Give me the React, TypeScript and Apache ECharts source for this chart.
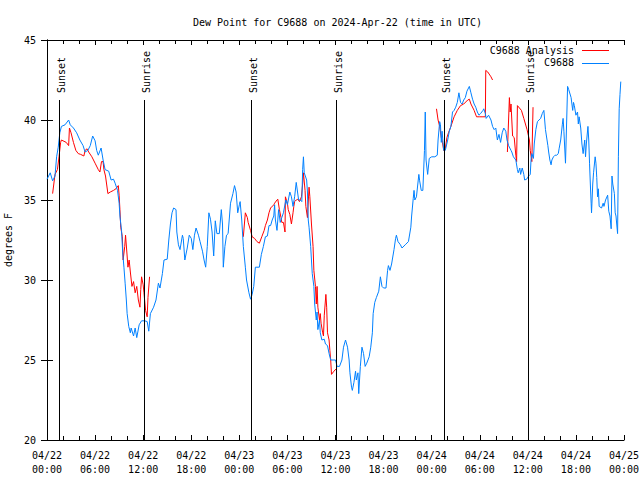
import React, { useEffect, useRef } from 'react';
import * as echarts from 'echarts';

const TITLE = 'Dew Point for C9688 on 2024-Apr-22 (time in UTC)';
const Y_NAME = 'degrees F';
const FONT = 'DejaVu Sans Mono';

// x axis in hours since 04/22 00:00 UTC
const xTickLabels = [
  '04/22\n00:00', '04/22\n06:00', '04/22\n12:00', '04/22\n18:00',
  '04/23\n00:00', '04/23\n06:00', '04/23\n12:00', '04/23\n18:00',
  '04/24\n00:00', '04/24\n06:00', '04/24\n12:00', '04/24\n18:00',
  '04/25\n00:00',
];

const sunHours = [1.5, 12.15, 25.5, 36.0, 49.5, 60.0];
const sunLabels = ['Sunset', 'Sunrise', 'Sunset', 'Sunrise', 'Sunset', 'Sunrise'];
const SUN_TOP = 41.25;

const seriesNames = ['C9688 Analysis', 'C9688'];
const seriesColors = ['#ff0000', '#0080ff'];

// observed dew point (hour, degF)
const observed: [number, number][] = [
  [0.0, 36.3], [0.4, 36.7], [0.7, 36.2], [1.0, 36.5], [1.2, 37.7], [1.4, 38.3], [1.6, 39.2], [1.8, 39.6],
  [2.25, 39.7], [2.7, 40.0], [2.9, 39.7], [3.3, 39.5], [3.7, 39.2], [4.1, 38.75], [4.5, 38.4], [4.75, 38.0],
  [5.1, 38.1], [5.4, 38.4], [5.7, 39.0], [6.0, 38.7], [6.2, 38.1], [6.4, 37.8], [6.75, 38.25], [7.0, 37.5],
  [7.25, 36.9], [7.7, 36.8], [8.0, 36.25], [8.3, 36.3], [8.5, 36.05], [8.8, 35.6], [9.0, 34.8], [9.1, 34.0],
  [9.3, 33.1], [9.45, 31.7], [9.6, 30.8], [9.75, 29.8], [9.9, 28.75], [10.0, 27.9], [10.2, 27.1], [10.4, 26.7],
  [10.5, 27.0], [10.8, 26.5], [11.0, 27.0], [11.2, 26.4], [11.5, 27.2], [11.8, 27.45], [12.2, 27.45], [12.5, 27.4],
  [12.7, 26.8], [12.9, 27.9], [13.3, 28.3], [13.6, 28.75], [13.9, 29.8], [14.1, 29.5], [14.4, 30.4], [14.6, 31.25],
  [15.0, 31.3], [15.2, 32.5], [15.4, 33.5], [15.6, 34.2], [15.8, 34.5], [16.1, 34.4], [16.2, 33.0], [16.4, 32.2],
  [16.6, 31.9], [16.9, 32.8], [17.0, 32.6], [17.2, 31.25], [17.5, 32.0], [17.75, 32.8], [18.0, 32.6], [18.2, 31.9],
  [18.4, 32.8], [18.6, 33.25], [18.9, 32.8], [19.1, 32.4], [19.4, 31.8], [19.6, 31.25], [19.8, 30.8], [20.0, 32.1],
  [20.2, 34.2], [20.4, 33.8], [20.6, 33.0], [20.8, 31.5], [21.0, 33.7], [21.2, 32.9], [21.5, 32.9], [21.75, 34.4],
  [21.9, 33.5], [22.0, 30.8], [22.2, 32.1], [22.4, 32.8], [22.6, 32.9], [22.9, 34.8], [23.2, 35.4], [23.4, 35.9],
  [23.6, 35.5], [23.8, 34.2], [24.0, 34.7], [24.1, 34.9], [24.3, 33.75], [24.5, 32.1], [24.75, 30.8], [24.9, 30.0],
  [25.2, 29.2], [25.4, 28.8], [25.6, 29.1], [25.8, 29.6], [26.0, 30.8], [26.2, 30.8], [26.5, 30.8], [26.75, 31.6],
  [27.0, 32.1], [27.25, 32.7], [27.5, 32.75], [27.7, 33.4], [27.9, 33.4], [28.1, 33.75], [28.3, 34.0], [28.4, 34.7],
  [28.5, 33.75], [28.7, 33.1], [28.9, 34.4], [29.1, 33.6], [29.3, 33.9], [29.5, 34.2], [29.8, 35.0], [30.0, 34.7],
  [30.3, 35.5], [30.5, 35.2], [30.7, 34.6], [30.9, 35.2], [31.1, 36.1], [31.4, 35.0], [31.6, 35.0], [31.8, 34.9],
  [31.9, 36.9], [32.0, 37.7], [32.1, 36.7], [32.4, 36.25], [32.5, 35.5], [32.6, 33.75], [32.7, 33.3], [32.9, 32.1],
  [33.1, 30.4], [33.3, 29.6], [33.4, 28.5], [33.6, 27.5], [33.7, 28.0], [33.8, 26.9], [34.0, 27.5], [34.1, 26.7],
  [34.3, 26.25], [34.6, 26.3], [34.75, 26.0], [35.0, 25.9], [35.2, 25.4], [35.4, 25.0], [35.8, 25.0], [36.0, 25.0],
  [36.2, 24.6], [36.5, 24.6], [36.8, 25.0], [37.0, 25.8], [37.25, 26.25], [37.5, 25.8], [37.7, 25.0], [37.8, 24.2],
  [38.0, 23.3], [38.1, 23.1], [38.3, 23.6], [38.5, 24.3], [38.6, 23.75], [38.8, 24.2], [38.9, 22.9], [39.1, 24.6],
  [39.3, 25.8], [39.5, 25.4], [39.7, 24.6], [39.9, 24.8], [40.2, 25.2], [40.4, 25.8], [40.6, 26.7], [40.7, 27.9],
  [40.9, 28.6], [41.1, 28.9], [41.4, 29.3], [41.6, 30.2], [41.8, 29.6], [42.0, 29.5], [42.3, 29.5], [42.5, 30.6],
  [42.6, 30.9], [42.8, 30.6], [43.0, 31.0], [43.3, 31.9], [43.5, 32.6], [43.6, 32.8], [43.8, 32.4], [44.1, 32.2],
  [44.3, 32.0], [44.7, 32.2], [45.1, 32.4], [45.4, 33.3], [45.5, 34.0], [45.7, 35.1], [45.8, 35.6], [45.9, 35.0],
  [46.1, 35.2], [46.4, 36.6], [46.5, 36.2], [46.7, 35.6], [46.9, 35.6], [47.1, 38.1], [47.2, 40.5], [47.3, 37.5],
  [47.5, 36.6], [47.7, 37.6], [48.0, 37.7], [48.4, 37.7], [48.7, 37.8], [48.8, 38.75], [49.0, 39.9], [49.1, 39.7],
  [49.2, 38.6], [49.3, 39.3], [49.5, 38.1], [49.7, 38.1], [50.0, 38.75], [50.2, 39.3], [50.4, 39.6], [50.6, 40.5],
  [50.8, 40.6], [51.0, 40.8], [51.2, 41.1], [51.4, 41.7], [51.6, 41.1], [51.8, 41.0], [52.0, 41.25], [52.2, 41.4],
  [52.4, 41.8], [52.7, 42.1], [52.9, 41.7], [53.1, 41.3], [53.3, 41.0], [53.5, 40.8], [53.7, 40.5], [53.9, 40.3],
  [54.1, 40.4], [54.4, 40.6], [54.5, 40.7], [54.7, 40.4], [54.8, 40.1], [55.1, 40.3], [55.4, 40.0], [55.6, 39.6],
  [55.8, 39.4], [56.0, 39.5], [56.2, 38.75], [56.4, 39.1], [56.6, 38.6], [56.8, 39.2], [57.0, 39.5], [57.25, 39.3],
  [57.4, 38.75], [57.6, 38.4], [57.9, 38.1], [58.0, 38.0], [58.2, 37.7], [58.5, 37.5], [58.7, 36.9], [58.8, 36.7],
  [59.0, 37.0], [59.1, 36.6], [59.3, 37.0], [59.5, 36.6], [59.6, 36.25], [59.85, 36.3], [60.1, 36.5], [60.3, 36.6],
  [60.4, 37.5], [60.5, 37.9], [60.7, 37.6], [60.8, 38.5], [61.0, 39.4], [61.2, 39.9], [61.4, 40.0], [61.6, 40.1],
  [61.8, 40.4], [62.0, 40.6], [62.2, 39.4], [62.5, 38.4], [62.6, 38.0], [62.75, 37.5], [62.9, 37.2], [63.0, 37.5],
  [63.2, 37.7], [63.4, 37.8], [63.6, 37.8], [63.8, 37.9], [63.9, 38.2], [64.1, 38.75], [64.3, 39.7], [64.4, 40.1],
  [64.5, 39.3], [64.7, 37.3], [64.85, 40.0], [64.96, 42.1], [65.1, 41.9], [65.4, 41.4], [65.6, 40.6], [65.7, 41.1],
  [65.8, 40.9], [66.0, 40.3], [66.2, 40.5], [66.3, 39.75], [66.4, 40.2], [66.6, 39.5], [66.75, 38.5], [66.9, 37.9],
  [67.1, 38.75], [67.2, 37.7], [67.3, 38.5], [67.5, 39.6], [67.6, 38.75], [67.7, 37.3], [67.8, 36.0], [67.9, 34.8],
  [67.95, 34.2], [68.1, 36.0], [68.2, 36.7], [68.4, 37.7], [68.5, 37.3], [68.6, 36.4], [68.7, 35.2], [68.8, 35.7],
  [68.9, 34.6], [69.2, 34.5], [69.4, 34.8], [69.5, 34.6], [69.7, 35.0], [69.96, 35.3], [70.1, 34.3], [70.25, 34.0],
  [70.4, 33.2], [70.5, 36.5], [70.6, 36.0], [70.8, 35.4], [70.9, 34.2], [71.0, 34.0], [71.2, 32.9], [71.3, 37.7],
  [71.4, 40.7], [71.5, 41.6], [71.6, 42.4],
];

// analysis dew point (hour, degF); null = gap
const analysis: [number, number | null][] = [
  [0.7, 35.4], [1.0, 36.6], [1.3, 36.9], [1.5, 37.7], [1.7, 38.6], [1.8, 38.75], [2.0, 38.7], [2.4, 38.6],
  [2.7, 38.4], [2.8, 39.5], [3.0, 39.2], [3.3, 38.6], [3.6, 38.1], [3.9, 37.9], [4.2, 37.85], [4.6, 37.75],
  [4.75, 38.1], [5.0, 38.2], [5.2, 38.0], [5.6, 37.7], [6.0, 37.3], [6.4, 36.9], [6.6, 36.75], [6.8, 37.4],
  [7.0, 37.4], [7.1, 36.9], [7.3, 36.5], [7.6, 35.4], [7.9, 35.5], [8.3, 35.6], [8.6, 35.7], [8.9, 35.9],
  [9.0, 35.3], [9.1, 34.4], [9.2, 33.3], [9.4, 32.7], [9.5, 31.25], [9.7, 32.1], [9.8, 32.8], [10.0, 31.5],
  [10.1, 30.8], [10.25, 31.25], [10.4, 30.5], [10.6, 29.6], [10.8, 29.9], [11.0, 29.2], [11.2, 29.6], [11.4, 28.75],
  [11.6, 28.3], [11.7, 29.4], [11.8, 30.2], [12.0, 29.7], [12.1, 29.2], [12.3, 28.1], [12.5, 27.7], [12.6, 28.9],
  [12.8, 30.2], [18.0, null],
  [24.5, 32.7], [24.75, 34.2], [25.0, 33.9], [25.1, 33.6], [25.4, 33.1], [25.6, 32.7], [25.9, 32.6], [26.2, 32.4],
  [26.5, 32.3], [26.8, 32.7], [27.1, 33.1], [27.25, 33.4], [27.5, 33.75], [27.7, 34.2], [27.9, 34.5], [28.3, 34.7],
  [28.4, 34.8], [28.7, 35.0], [28.8, 35.05], [29.0, 34.4], [29.2, 33.9], [29.3, 33.6], [29.5, 33.6], [29.7, 33.0],
  [29.75, 35.2], [30.0, 34.8], [30.1, 34.4], [30.3, 34.1], [30.5, 33.5], [30.7, 34.2], [30.8, 34.6], [30.9, 34.9],
  [31.1, 35.0], [31.3, 35.05], [31.5, 34.9], [31.75, 35.2], [31.9, 36.0], [32.0, 36.7], [32.2, 35.6], [32.3, 34.6],
  [32.5, 33.9], [32.7, 35.8], [32.8, 35.2], [33.0, 33.5], [33.2, 32.1], [33.3, 30.6], [33.5, 29.6], [33.6, 28.5],
  [33.7, 29.6], [33.8, 28.3], [34.0, 27.5], [34.1, 27.9], [34.2, 27.3], [34.4, 26.7], [34.5, 26.5], [34.6, 27.8],
  [34.8, 29.1], [34.9, 28.3], [35.0, 26.7], [35.2, 26.25], [35.3, 25.6], [35.4, 25.0], [35.5, 24.1], [35.8, 24.3],
  [36.2, 24.5], [42.0, null],
  [48.6, 40.7], [48.8, 40.0], [49.0, 39.6], [49.2, 38.9], [49.35, 38.6], [49.5, 38.1], [49.7, 38.2], [49.9, 38.9],
  [50.1, 39.2], [50.4, 39.6], [50.8, 40.2], [51.2, 40.6], [51.6, 40.9], [52.0, 41.0], [52.5, 41.25], [52.7, 41.3],
  [52.9, 41.0], [53.3, 40.6], [53.6, 40.2], [54.0, 40.2], [54.4, 40.2], [54.7, 40.2], [54.75, 43.1], [55.0, 43.0],
  [55.4, 42.7], [55.6, 42.5], [56.5, null],
  [57.45, 38.0], [57.7, 41.4], [57.8, 40.5], [57.9, 41.0], [58.1, 39.0], [58.3, 38.9], [58.5, 37.8], [58.6, 37.4],
  [58.7, 40.9], [59.2, 40.6], [59.5, 40.1], [59.9, 39.4], [60.2, 38.75], [60.3, 38.1], [60.5, 37.4], [60.65, 40.8],
];

const App: React.FC = () => {
  const ref = useRef<HTMLDivElement>(null);

  useEffect(() => {
    if (!ref.current) return;
    const chart = echarts.init(ref.current, undefined, { renderer: 'svg' });
    const txt = { fontFamily: FONT, fontSize: 10, color: '#000' };
    const tickStyle = { color: '#000', width: 1 };

    const xCommon = {
      type: 'value' as const,
      min: 0,
      max: 72,
      interval: 6,
      axisLine: { show: true, lineStyle: tickStyle },
      axisTick: { show: true, inside: true, length: 5, lineStyle: tickStyle },
      minorTick: { show: true, splitNumber: 3, length: 4, lineStyle: tickStyle },
      splitLine: { show: false },
      minorSplitLine: { show: false },
    };
    const yCommon = {
      type: 'value' as const,
      min: 20,
      max: 45,
      interval: 5,
      axisLine: { show: true, lineStyle: tickStyle },
      axisTick: { show: true, inside: true, length: 6, lineStyle: tickStyle },
      splitLine: { show: false },
    };

    const option: any = {
      animation: false,
      backgroundColor: '#fff',
      title: {
        text: TITLE,
        left: 188,
        top: 12,
        textStyle: { ...txt, fontWeight: 'normal' },
      },
      grid: { left: 47, right: 16, top: 40, bottom: 40, outerBoundsMode: 'none', containLabel: false },
      xAxis: [
        {
          ...xCommon,
          position: 'bottom',
          axisLabel: {
            ...txt,
            margin: 8,
            lineHeight: 14,
            formatter: (v: number) => xTickLabels[Math.round(v / 6)] ?? '',
          },
        },
        { ...xCommon, position: 'top', axisLabel: { show: false } },
      ],
      yAxis: [
        {
          ...yCommon,
          position: 'left',
          name: Y_NAME,
          nameLocation: 'middle',
          nameGap: 31,
          nameRotate: 90,
          nameTextStyle: txt,
          axisLabel: { ...txt, margin: 11 },
        },
        { ...yCommon, position: 'right', axisLabel: { show: false } },
      ],
      series: [
        {
          name: seriesNames[0],
          type: 'line',
          data: analysis.map(([h, v]) => [h, v === null ? '-' : v]),
          symbol: 'none',
          connectNulls: false,
          lineStyle: { color: seriesColors[0], width: 1 },
          itemStyle: { color: seriesColors[0] },
          z: 2,
        },
        {
          name: seriesNames[1],
          type: 'line',
          data: observed,
          symbol: 'none',
          lineStyle: { color: seriesColors[1], width: 1 },
          itemStyle: { color: seriesColors[1] },
          z: 3,
        },
        {
          type: 'custom',
          data: sunHours.map((h) => [h, SUN_TOP]),
          encode: { x: 0, y: 1 },
          z: 4,
          renderItem: (params: any, api: any) => {
            const top = api.coord([api.value(0), api.value(1)]);
            const bot = api.coord([api.value(0), 20]);
            const x = Math.round(top[0]) + 0.5;
            return {
              type: 'group',
              children: [
                {
                  type: 'line',
                  shape: { x1: x, y1: top[1], x2: x, y2: bot[1] },
                  style: { stroke: '#000', lineWidth: 1 },
                },
                {
                  type: 'text',
                  x: x + 2,
                  y: top[1] - 7,
                  rotation: Math.PI / 2,
                  style: {
                    text: sunLabels[params.dataIndex],
                    fontFamily: FONT,
                    fontSize: 10,
                    fill: '#000',
                    align: 'left',
                    verticalAlign: 'middle',
                  },
                },
              ],
            };
          },
        },
      ],
      graphic: [
        ...seriesNames.map((name, i) => ({
          type: 'text',
          x: 574,
          y: 50 + i * 12.5,
          z: 10,
          style: {
            text: name,
            fontFamily: FONT,
            fontSize: 10,
            fill: '#000',
            align: 'right',
            verticalAlign: 'middle',
          },
        })),
        ...seriesNames.map((_, i) => ({
          type: 'line',
          z: 10,
          shape: { x1: 582, y1: 50.5 + Math.round(i * 12.5), x2: 609, y2: 50.5 + Math.round(i * 12.5) },
          style: { stroke: seriesColors[i], lineWidth: 1 },
        })),
      ],
    };

    chart.setOption(option);
    return () => chart.dispose();
  }, []);

  return (
    <div
      ref={ref}
      style={{ position: 'fixed', left: 0, top: 0, width: 640, height: 480, background: '#fff' }}
    />
  );
};

export default App;
